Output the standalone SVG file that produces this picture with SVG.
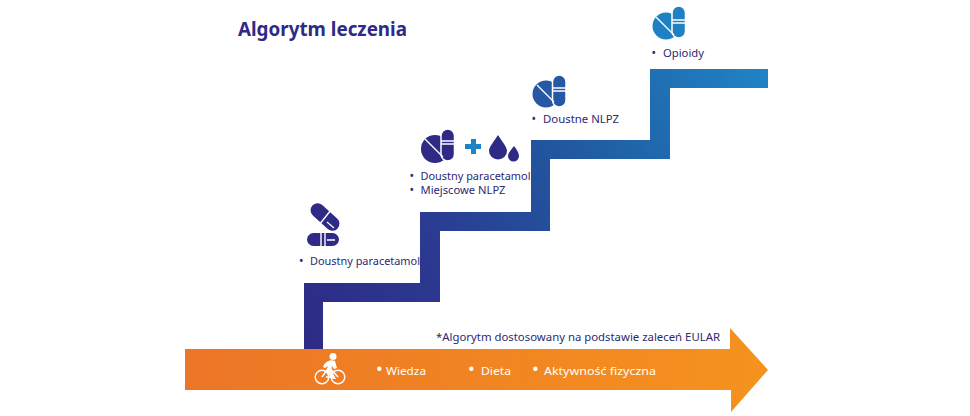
<svg xmlns="http://www.w3.org/2000/svg" width="970" height="416" viewBox="0 0 970 416">
<style>
text{font-family:"Noto Sans","Liberation Sans",sans-serif}
.t{font-size:11px;fill:#2b2a72}
.w{font-size:11.5px;fill:#fff}
.b{font-size:12px;fill:#2b2a72}
.bw{font-size:18px;fill:#fff}
.cut{stroke:#fff;stroke-width:1.4;fill:none}
</style>
<defs>
<linearGradient id="st" gradientUnits="userSpaceOnUse" x1="304" y1="349" x2="768" y2="69">
<stop offset="0" stop-color="#2e2a85"/><stop offset=".3" stop-color="#2b3a90"/><stop offset=".6" stop-color="#21589f"/><stop offset="1" stop-color="#1f84c6"/>
</linearGradient>
<linearGradient id="ar" x1="0" y1="0" x2="1" y2="0">
<stop offset="0" stop-color="#ec7527"/><stop offset="1" stop-color="#f5931e"/>
</linearGradient>
</defs>
<rect width="970" height="416" fill="#fff"/>
<g id="connectors">
<path id="stairs" fill="url(#st)" d="M304 350V283H420V212H531V140H650V69H768V88H670V159H550V231H440V302H323V350Z"/>
<path id="arrow" fill="url(#ar)" d="M185 349H730V328L768 370L731 412V390H185Z"/>
</g>
<text x="238" y="36" font-size="19.5" font-weight="700" fill="#2e2a85" textLength="169" lengthAdjust="spacingAndGlyphs">Algorytm leczenia</text>
<g id="step1">
<g fill="#2e2a85">
<rect x="308" y="210" width="34" height="14" rx="7" transform="rotate(42 325 217)"/>
<rect x="307" y="233" width="32" height="13" rx="6.500"/>
</g>
<path class="cut" d="M319 225L331 210M321 233V246M325 233V246M327 240H335"/>
<path stroke="#fff" stroke-width="1.200" fill="none" d="M327 222L334 228"/>
<text class="b" x="299" y="265">•</text>
<text class="t" x="310" y="265" textLength="110" lengthAdjust="spacingAndGlyphs">Doustny paracetamol</text>
</g>
<g id="step2">
<circle cx="435" cy="149" r="14" fill="#2e2a85"/>
<rect x="441" y="129" width="13.500" height="32" rx="6.700" fill="#2e2a85" stroke="#fff" stroke-width="1.500"/>
<path class="cut" d="M425 139L443 157M441 141H455M441 144H455"/>
<path fill="#1f84c6" d="M471 139h5v5h5v5h-5v5h-5v-5h-6v-5h6z"/>
<path fill="#2e2a85" d="M498 135C503 143 507 147 507 151A9 8.500 0 0 1 489 151C489 147 493 143 498 135Z"/>
<path fill="#2e2a85" d="M514 146C517 150 519 153 519 156A5.500 5.500 0 0 1 508 156C508 153 511 150 514 146Z"/>
<text class="b" x="409.500" y="180">•</text>
<text class="t" x="420.500" y="180" textLength="110" lengthAdjust="spacingAndGlyphs">Doustny paracetamol</text>
<text class="b" x="409.500" y="194">•</text>
<text class="t" x="420.500" y="194" textLength="85" lengthAdjust="spacingAndGlyphs">Miejscowe NLPZ</text>
</g>
<g id="step3">
<circle cx="546" cy="94" r="13.500" fill="#2558a5"/>
<rect x="552.500" y="75" width="13.500" height="32" rx="6.700" fill="#2558a5" stroke="#fff" stroke-width="1.500"/>
<path class="cut" d="M537 85L554 102M552 88H566M552 91H566"/>
<text class="b" x="531.500" y="123">•</text>
<text class="t" x="543" y="123" textLength="76" lengthAdjust="spacingAndGlyphs">Doustne NLPZ</text>
</g>
<g id="step4">
<circle cx="666" cy="26" r="13.500" fill="#1f80c4"/>
<rect x="672" y="6" width="13.500" height="32" rx="6.700" fill="#1f80c4" stroke="#fff" stroke-width="1.500"/>
<path class="cut" d="M656 17L674 35M672 20H686M672 23H686"/>
<text class="b" x="651.500" y="57">•</text>
<text class="t" x="663" y="57" textLength="41" lengthAdjust="spacingAndGlyphs">Opioidy</text>
</g>
<g id="note">
<text class="t" x="436" y="341" textLength="284" lengthAdjust="spacingAndGlyphs" style="font-size:11.500px">*Algorytm dostosowany na podstawie zaleceń EULAR</text>
</g>
<g id="cyclist">
<g fill="none" stroke="#fff" stroke-width="1.400">
<circle cx="322" cy="377" r="6.800"/>
<circle cx="338" cy="377" r="6.800"/>
<path d="M322 377L329 367L338 377M326 377H334L329 367"/>
</g>
<circle cx="333" cy="356.500" r="3.500" fill="#fff"/>
<path fill="#fff" d="M323 367C325 361 331 359 335 361L337 368L334 369L332 366L331 371L336 379H333L326 372L328 366L325 368Z"/>
</g>
<g id="labels">
<text class="bw" x="376" y="375">•</text>
<text class="w" x="386" y="375" textLength="40" lengthAdjust="spacingAndGlyphs">Wiedza</text>
<text class="bw" x="468" y="375">•</text>
<text class="w" x="481" y="375" textLength="30" lengthAdjust="spacingAndGlyphs">Dieta</text>
<text class="bw" x="532" y="375">•</text>
<text class="w" x="544" y="375" textLength="112" lengthAdjust="spacingAndGlyphs">Aktywność fizyczna</text>
</g>
</svg>
